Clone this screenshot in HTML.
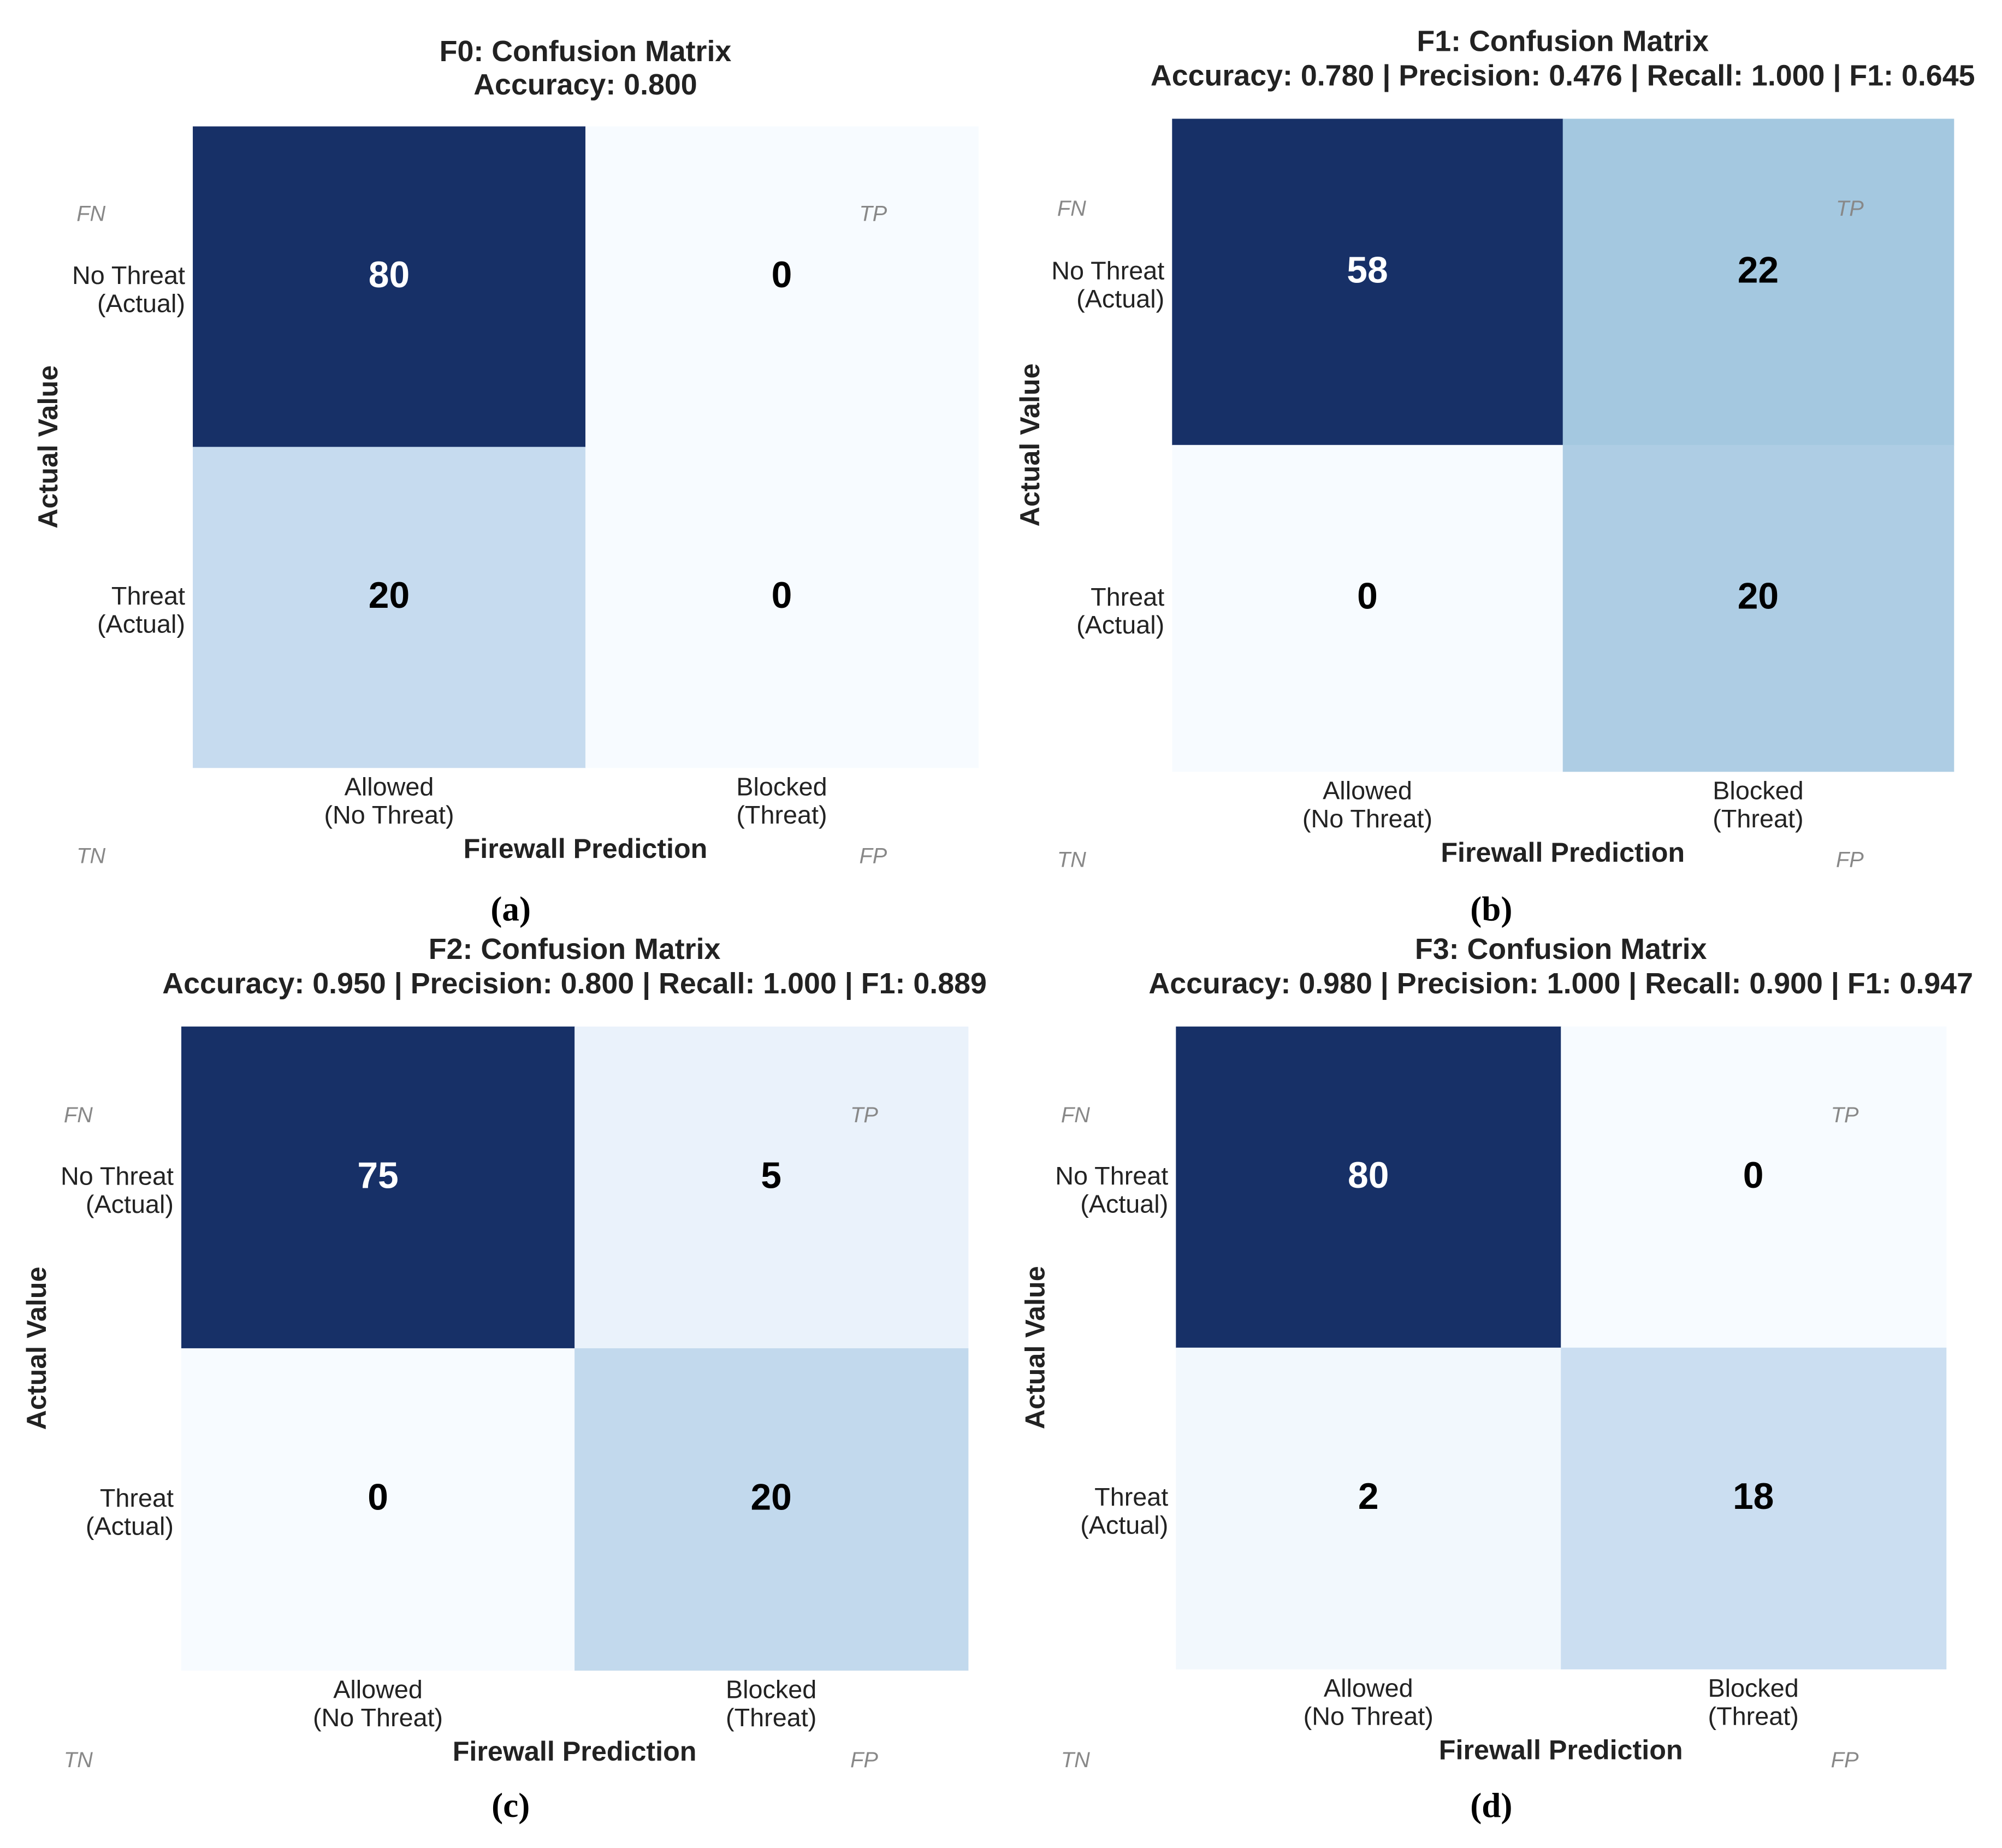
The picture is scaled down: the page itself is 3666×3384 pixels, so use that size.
<!DOCTYPE html>
<html><head><meta charset="utf-8"><style>
html,body{margin:0;padding:0;background:#fff;}
svg{display:block;}
</style></head><body>
<svg id="fig" width="3666" height="3384" viewBox="0 0 1568 1447.4" xmlns="http://www.w3.org/2000/svg" font-family="Liberation Sans, Arial, sans-serif"></svg>
<script>
const panelNames = ["F0","F1","F2","F3"];
const panelCaptions = ["(a)","(b)","(c)","(d)"];
const panelSubtitles = [
  "Accuracy: 0.800",
  "Accuracy: 0.780 | Precision: 0.476 | Recall: 1.000 | F1: 0.645",
  "Accuracy: 0.950 | Precision: 0.800 | Recall: 1.000 | F1: 0.889",
  "Accuracy: 0.980 | Precision: 1.000 | Recall: 0.900 | F1: 0.947"
];
// matrices: [[noThreat-allowed, noThreat-blocked],[threat-allowed, threat-blocked]]
const matrixF0 = [[80,0],[20,0]];
const matrixF1 = [[58,22],[0,20]];
const matrixF2 = [[75,5],[0,20]];
const matrixF3 = [[80,0],[2,18]];
const rowLabels = [["No Threat","(Actual)"],["Threat","(Actual)"]];
const colLabels = [["Allowed","(No Threat)"],["Blocked","(Threat)"]];
const cornerTags = ["FN","TP","TN","FP"];

const matrices = [matrixF0, matrixF1, matrixF2, matrixF3];
const layouts = [
  {x0:151,x1:766,y0:99,y1:601,t1:40,t2:66,tk:145,xl:37,cap:712,fnX:60,tpX:673,tagT:167,tagB:670},
  {x0:918,x1:1530,y0:93,y1:604,t1:32,t2:59,tk:912,xl:806,cap:712,fnX:828,tpX:1438,tagT:163,tagB:673},
  {x0:142,x1:758,y0:804,y1:1308,t1:743,t2:770,tk:136,xl:28,cap:1414,fnX:50,tpX:666,tagT:873,tagB:1378},
  {x0:921,x1:1524,y0:804,y1:1307,t1:743,t2:770,tk:915,xl:810,cap:1414,fnX:831,tpX:1434,tagT:873,tagB:1378}
];
const stops = ["#f7fbff","#deebf7","#c6dbef","#a6c9e0","#6baed6","#4292c6","#2171b5","#08519c","#173067"];
function hex(c){return [1,3,5].map(i=>parseInt(c.substr(i,2),16));}
function blues(t){
  t=Math.max(0,Math.min(1,t));const p=t*(stops.length-1);const i=Math.min(Math.floor(p),stops.length-2);const f=p-i;
  const a=hex(stops[i]),b=hex(stops[i+1]);
  return "rgb("+a.map((v,k)=>Math.round(v+(b[k]-v)*f)).join(",")+")";
}
const NS="http://www.w3.org/2000/svg";
const svg=document.getElementById("fig");
function mk(tag,attrs,parent){const e=document.createElementNS(NS,tag);for(const k in attrs)e.setAttribute(k,attrs[k]);(parent||svg).appendChild(e);return e;}
function txt(s,attrs,parent){const e=mk("text",attrs,parent);e.textContent=s;return e;}

matrices.forEach((m,pi)=>{
  const L=layouts[pi];
  const g=mk("g",{});
  
  
  const cx=(L.x0+L.x1)/2;
  const flat=m.flat();const mn=Math.min(...flat),mx=Math.max(...flat);
  const xScale=c=>L.x0+(L.x1-L.x0)*c/2;
  const yScale=r=>L.y0+(L.y1-L.y0)*r/2;
  const cw=(L.x1-L.x0)/2,ch=(L.y1-L.y0)/2;
  for(let r=0;r<2;r++)for(let c=0;c<2;c++){
    const v=m[r][c];const t=mx>mn?(v-mn)/(mx-mn):0;
    const rect=mk("rect",{x:xScale(c),y:yScale(r),width:cw+0.5,height:ch+0.5,fill:blues(t)},g);
    
    
    const tv=txt(String(v),{x:xScale(c)+cw/2,y:yScale(r)+ch*0.5+0.5,"text-anchor":"middle","font-size":29,"font-weight":"bold",fill:t>0.5?"#fff":"#000"},g);
    
    
  }
  const t1=txt(panelNames[pi]+": Confusion Matrix",{x:cx,y:L.t1+8,"text-anchor":"middle","font-size":23,"font-weight":"bold",fill:"#222"},g);
  
  
  const t2=txt(panelSubtitles[pi],{x:cx,y:L.t2+8,"text-anchor":"middle","font-size":23,"font-weight":"bold",fill:"#222"},g);
  
  
  rowLabels.forEach((lab,r)=>{
    const yc=yScale(r)+ch*0.5;
    const a=txt(lab[0],{x:L.tk,y:yc-2,"text-anchor":"end","font-size":20,fill:"#222"},g);
    
    
    const b=txt(lab[1],{x:L.tk,y:yc+20,"text-anchor":"end","font-size":20,fill:"#222"},g);
    
    
  });
  colLabels.forEach((lab,c)=>{
    const xc=xScale(c)+cw/2;
    const a=txt(lab[0],{x:xc,y:L.y1+22,"text-anchor":"middle","font-size":20,fill:"#222"},g);
    
    
    const b=txt(lab[1],{x:xc,y:L.y1+44,"text-anchor":"middle","font-size":20,fill:"#222"},g);
    
    
  });
  const xt=txt("Firewall Prediction",{x:cx,y:L.y1+71,"text-anchor":"middle","font-size":21.5,"font-weight":"bold",fill:"#222"},g);
  
  
  const ym=(L.y0+L.y1)/2;
  const yt=txt("Actual Value",{x:L.xl+8,y:ym,"text-anchor":"middle","font-size":21.5,"font-weight":"bold",fill:"#222",transform:"rotate(-90 "+(L.xl+8)+" "+ym+")"},g);
  
  
  const tagPos=[[L.fnX,L.tagT],[L.tpX,L.tagT],[L.fnX,L.tagB],[L.tpX,L.tagB]];
  cornerTags.forEach((tg,i)=>{
    const e=txt(tg,{x:tagPos[i][0],y:tagPos[i][1]+6,"font-size":17,"font-style":"italic",fill:"#888"},g);
    
    
  });
  const cap=txt(panelCaptions[pi],{x:(pi%2===0?400:1168),y:L.cap+9,"text-anchor":"middle","font-size":27,fill:"#000","font-family":"Liberation Serif, serif","font-weight":"bold"},g);
  
  
});
</script>
</body></html>
